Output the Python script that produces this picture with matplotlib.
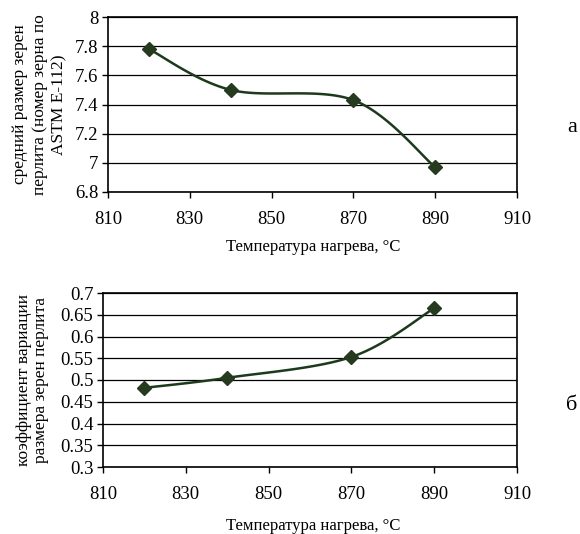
import numpy as np
import matplotlib
matplotlib.use("Agg")
import matplotlib.pyplot as plt

temps = [820, 840, 870, 890]
grain_size = [7.78, 7.50, 7.43, 6.97]
variation = [0.482, 0.505, 0.553, 0.665]

xticks = [810, 830, 850, 870, 890, 910]
yticks_a = [6.8, 7.0, 7.2, 7.4, 7.6, 7.8, 8.0]
yticks_b = [0.3, 0.35, 0.4, 0.45, 0.5, 0.55, 0.6, 0.65, 0.7]
ylabels_a = ["6.8", "7", "7.2", "7.4", "7.6", "7.8", "8"]
ylabels_b = ["0.3", "0.35", "0.4", "0.45", "0.5", "0.55", "0.6", "0.65", "0.7"]

plt.rcParams['font.family'] = ['Liberation Serif', 'DejaVu Serif']

def smooth(x, y, n=40):
    x = np.asarray(x, float); y = np.asarray(y, float)
    px = np.concatenate([[x[0]], x, [x[-1]]])
    py = np.concatenate([[y[0]], y, [y[-1]]])
    xs, ys = [], []
    t = np.linspace(0, 1, n)
    for i in range(1, len(px) - 2):
        p0 = np.array([px[i], py[i]]); p1 = np.array([px[i+1], py[i+1]])
        c1 = p0 + (np.array([px[i+1], py[i+1]]) - np.array([px[i-1], py[i-1]])) / 6
        c2 = p1 - (np.array([px[i+2], py[i+2]]) - np.array([px[i], py[i]])) / 6
        b = (np.outer((1-t)**3, p0) + np.outer(3*(1-t)**2*t, c1)
             + np.outer(3*(1-t)*t**2, c2) + np.outer(t**3, p1))
        xs.extend(b[:, 0]); ys.extend(b[:, 1])
    return xs, ys

fig = plt.figure(figsize=(5.8, 5.34), dpi=100)
W, H = 580, 534
ax1 = fig.add_axes([108/W, 1-192/H, (517-108)/W, (192-17)/H])
ax2 = fig.add_axes([103/W, 1-467/H, (517-103)/W, (467-293)/H])

color = '#1c3a1c'
for ax, y, yt, yl, lab, xlab_y, panel, py, ylx, ls in [
    (ax1, grain_size, yticks_a, ylabels_a,
     "средний размер зерен\nперлита (номер зерна по\nASTM E-112)", 247, "а", 128, 67, 1.28),
    (ax2, variation, yticks_b, ylabels_b,
     "коэффициент вариации\nразмера зерен перлита", 526, "б", 405, 49, 1.12)]:
    sx, sy = smooth(temps, y)
    ax.plot(sx, sy, color=color, lw=1.8, zorder=3)
    ax.plot(temps, y, linestyle='none', marker='D', ms=7, color='#263a1f', zorder=4)
    ax.set_xlim(810, 910)
    ax.set_ylim(yt[0], yt[-1])
    ax.set_xticks(xticks)
    ax.set_yticks(yt)
    ax.set_yticklabels(yl)
    ax.yaxis.grid(True, color='black', lw=0.9)
    ax.set_axisbelow(True)
    for s in ax.spines.values():
        s.set_linewidth(1.2)
    ax.tick_params(direction='out', length=4, width=1, labelsize=13.5)
    ax.tick_params(axis='x', pad=10)
    ax.tick_params(axis='y', pad=3)
    ax.set_ylabel(lab, fontsize=12.5, linespacing=ls)
    ax.yaxis.set_label_coords((ylx - ax.get_position().x0 * W) / (ax.get_position().width * W), 0.5)
    fig.text(313/W, 1-xlab_y/H, "Температура нагрева, °C", ha='center', va='center', fontsize=12)
    fig.text(572/W, 1-py/H, panel, ha='center', va='center', fontsize=16)

fig.savefig("out.png", dpi=100)
